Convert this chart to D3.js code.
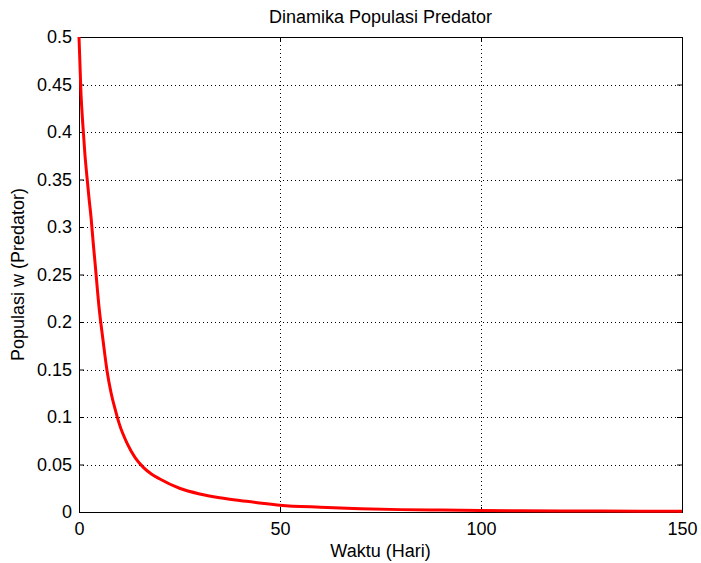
<!DOCTYPE html>
<html>
<head>
<meta charset="utf-8">
<script src="https://cdn.jsdelivr.net/npm/d3@7"></script>
<style>
  html, body { margin: 0; padding: 0; background: #fff; }
  svg text { font-family: "Liberation Sans", Arial, sans-serif; fill: #000; }
</style>
</head>
<body>
<svg id="chart" width="701" height="563"></svg>
<script>
// Predator population w over time (days)
const timeDays = [0, 0.5, 1, 1.5, 2, 2.5, 3, 3.5, 4, 5, 6, 7, 8, 9, 10, 12, 14, 16, 18, 20,
                  25, 30, 35, 40, 45, 50, 60, 70, 80, 90, 100, 110, 120, 130, 140, 150];
const predatorW = [0.5, 0.44, 0.405, 0.375, 0.352, 0.33, 0.31, 0.285, 0.262, 0.215, 0.18, 0.148,
                   0.125, 0.108, 0.093, 0.072, 0.057, 0.047, 0.04, 0.035, 0.025, 0.019, 0.015,
                   0.012, 0.0095, 0.0072, 0.005, 0.0035, 0.0025, 0.002, 0.0016, 0.0013, 0.0011,
                   0.001, 0.0009, 0.0008];
const xTicks = [0, 50, 100, 150];
const yTicks = [0, 0.05, 0.1, 0.15, 0.2, 0.25, 0.3, 0.35, 0.4, 0.45, 0.5];
const yTickLabels = ["0", "0.05", "0.1", "0.15", "0.2", "0.25", "0.3", "0.35", "0.4", "0.45", "0.5"];

const plotL = 79, plotR = 682, plotT = 37, plotB = 512;
const svg = d3.select("#chart");

const x = d3.scaleLinear().domain([0, 150]).range([plotL, plotR]);
const y = d3.scaleLinear().domain([0, 0.5]).range([plotB, plotT]);

// dotted grid
const grid = svg.append("g").attr("stroke", "#000").attr("stroke-width", 1)
  .attr("stroke-dasharray", "1,3").attr("shape-rendering", "crispEdges");
grid.selectAll("line.gx").data(xTicks.slice(1, -1)).join("line")
  .attr("x1", d => Math.round(x(d)) + 0.5).attr("x2", d => Math.round(x(d)) + 0.5)
  .attr("y1", plotT).attr("y2", plotB);
grid.selectAll("line.gy").data(yTicks.slice(1, -1)).join("line")
  .attr("y1", d => Math.round(y(d)) + 0.5).attr("y2", d => Math.round(y(d)) + 0.5)
  .attr("x1", plotL).attr("x2", plotR);

// axes with inward ticks, mirrored on top/right
const fmtY = d => yTickLabels[yTicks.indexOf(d)];
const axisStyle = g => {
  g.select(".domain").remove();
  g.selectAll("line").attr("stroke", "#000");
  g.selectAll("text").style("font-size", "18px");
};
svg.append("g").attr("transform", `translate(0,${plotB})`)
  .call(d3.axisBottom(x).tickValues(xTicks).tickSize(-5).tickPadding(10).tickFormat(d3.format("d")))
  .call(axisStyle);
svg.append("g").attr("transform", `translate(${plotL},0)`)
  .call(d3.axisLeft(y).tickValues(yTicks).tickSize(-5).tickPadding(7).tickFormat(fmtY))
  .call(axisStyle);
svg.append("g").attr("transform", `translate(0,${plotT})`)
  .call(d3.axisTop(x).tickValues(xTicks).tickSize(-5).tickFormat(""))
  .call(axisStyle);
svg.append("g").attr("transform", `translate(${plotR},0)`)
  .call(d3.axisRight(y).tickValues(yTicks).tickSize(-5).tickFormat(""))
  .call(axisStyle);

// frame
svg.append("rect").attr("x", plotL + 0.5).attr("y", plotT + 0.5)
  .attr("width", plotR - plotL).attr("height", plotB - plotT)
  .attr("fill", "none").attr("stroke", "#000").attr("stroke-width", 1);

// predator curve
const line = d3.line().x((d, i) => x(timeDays[i])).y(d => y(d)).curve(d3.curveMonotoneX);
svg.append("path").datum(predatorW)
  .attr("d", line).attr("fill", "none").attr("stroke", "#ff0000").attr("stroke-width", 3);

// labels
svg.append("text").attr("x", (plotL + plotR) / 2).attr("y", 23)
  .attr("text-anchor", "middle").style("font-size", "18px").text("Dinamika Populasi Predator");
svg.append("text").attr("x", (plotL + plotR) / 2).attr("y", 557)
  .attr("text-anchor", "middle").style("font-size", "18px").text("Waktu (Hari)");
svg.append("text").attr("transform", `translate(24,${(plotT + plotB) / 2}) rotate(-90)`)
  .attr("text-anchor", "middle").style("font-size", "18px").text("Populasi w (Predator)");
</script>
</body>
</html>
